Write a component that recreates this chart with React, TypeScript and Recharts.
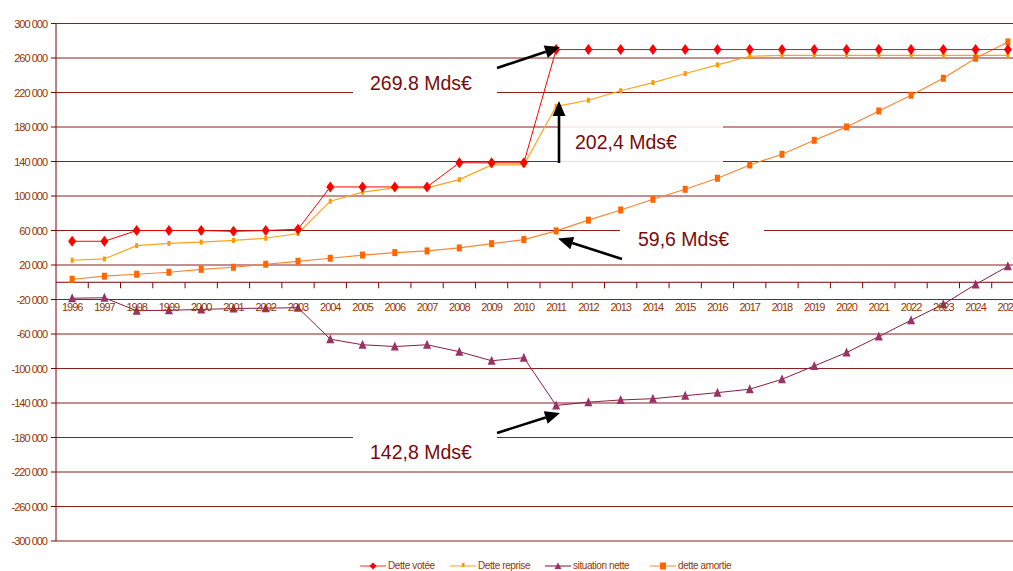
import React from "react";
import { LineChart, Line, XAxis, YAxis, CartesianGrid, ReferenceLine, Legend } from "recharts";

const years = [
  "1996", "1997", "1998", "1999", "2000", "2001", "2002", "2003", "2004", "2005",
  "2006", "2007", "2008", "2009", "2010", "2011", "2012", "2013", "2014", "2015",
  "2016", "2017", "2018", "2019", "2020", "2021", "2022", "2023", "2024", "2025",
];

// millions d'euros
const detteVotee = [
  47500, 47500, 60000, 60000, 60000, 59000, 60000, 61500, 110500, 110500,
  110500, 110500, 138500, 138500, 138500, 269800, 269800, 269800, 269800, 269800,
  269800, 269800, 269800, 269800, 269800, 269800, 269800, 269800, 269800, 269800,
];
const detteReprise = [
  25500, 27000, 42500, 45000, 46500, 48500, 51000, 56500, 94000, 104500,
  109500, 109500, 119000, 136000, 136000, 204000, 211000, 222000, 231500, 242000,
  252000, 262000, 263000, 263000, 263000, 263000, 263000, 263000, 263000, 263000,
];
const situationNette = [
  -18500, -18000, -33000, -32500, -31500, -30500, -30000, -29500, -66000, -72500,
  -74500, -72500, -80500, -91000, -87500, -142800, -139000, -136500, -135000, -131500,
  -128000, -124000, -112500, -97000, -81500, -63000, -44000, -25500, -2500, 18500,
];
const detteAmortie = [
  3500, 7000, 9300, 11600, 15000, 17400, 20900, 24300, 27800, 31500,
  34400, 36300, 39800, 44800, 49500, 59600, 72000, 83800, 96200, 107800,
  120600, 136000, 148400, 164600, 180100, 198600, 216800, 236500, 259700, 278600,
];

const yTicks = [
  -300000, -260000, -220000, -180000, -140000, -100000, -60000, -20000,
  20000, 60000, 100000, 140000, 180000, 220000, 260000, 300000,
];

const data = years.map((year, i) => ({
  year,
  votee: detteVotee[i],
  reprise: detteReprise[i],
  nette: situationNette[i],
  amortie: detteAmortie[i],
}));

const W = 1024;
const H = 571;
const TOP = 23.5;
const LEFT = 56;
const XAXIS_H = 10;
const LEGEND_H = 20;
const PLOT_H = H - TOP - XAXIS_H - LEGEND_H;
const ZERO_Y = TOP + PLOT_H / 2;
const BAND = (W - LEFT) / years.length;

const FONT = '"Liberation Sans", Arial, sans-serif';
const AXIS_TEXT = "#993300";
const GRID = "#8b1f1f";
const NOTE = "#7a0a0a";

const fmt = (v: number) => {
  const s = Math.abs(v).toString().replace(/\B(?=(\d{3})+(?!\d))/g, " ");
  return (v < 0 ? "-" : "") + s;
};

const YTick = (p: any) => (
  <text x={p.x} y={p.y} dy={4} textAnchor="end" fill={AXIS_TEXT} fontSize={11}
    fontFamily={FONT} letterSpacing={-1}>
    {fmt(p.payload.value)}
  </text>
);

const XTick = (p: any) => (
  <g>
    <line x1={p.x + BAND / 2} x2={p.x + BAND / 2} y1={ZERO_Y} y2={ZERO_Y + 6} stroke="#800000" />
    <text x={p.x} y={ZERO_Y + 29} textAnchor="middle" fill={AXIS_TEXT} fontSize={11}
      fontFamily={FONT} letterSpacing={-1}>
      {p.payload.value}
    </text>
  </g>
);

const diamond = (p: any) =>
  p.cx == null ? <g key={`v${p.index}`} /> : (
    <path key={`v${p.index}`} fill="#ff0000"
      d={`M${p.cx},${p.cy - 5.5}L${p.cx + 4},${p.cy}L${p.cx},${p.cy + 5.5}L${p.cx - 4},${p.cy}Z`} />
  );
const tick = (p: any) =>
  p.cx == null ? <g key={`r${p.index}`} /> : (
    <rect key={`r${p.index}`} x={p.cx - 1.5} y={p.cy - 2.5} width={3} height={5} fill="#ff9900" />
  );
const triangle = (p: any) =>
  p.cx == null ? <g key={`n${p.index}`} /> : (
    <path key={`n${p.index}`} fill="#993366"
      d={`M${p.cx},${p.cy - 5}L${p.cx + 4},${p.cy + 4}L${p.cx - 4},${p.cy + 4}Z`} />
  );
const square = (p: any) =>
  p.cx == null ? <g key={`a${p.index}`} /> : (
    <rect key={`a${p.index}`} x={p.cx - 2.5} y={p.cy - 3.5} width={5} height={7} fill="#ff6600" />
  );

const legendItems = [
  { name: "Dette votée", line: "#ff4d4d", left: 360, mark: "diamond" },
  { name: "Dette reprise", line: "#ffb340", left: 450, mark: "tick" },
  { name: "situation nette", line: "#993366", left: 545, mark: "triangle" },
  { name: "dette amortie", line: "#ff9955", left: 650, mark: "square" },
];

const LegendMark = ({ mark }: { mark: string }) => {
  if (mark === "diamond") return <path d="M13,1.5L16.5,5L13,8.5L9.5,5Z" fill="#ff0000" />;
  if (mark === "tick") return <rect x={12} y={2} width={2.5} height={4} fill="#ff9900" />;
  if (mark === "triangle") return <path d="M13,1.5L16.5,8L9.5,8Z" fill="#993366" />;
  return <rect x={10} y={1.5} width={6} height={7} fill="#ff6600" />;
};

const LegendBox = () => (
  <div style={{ position: "relative", width: W, height: LEGEND_H }}>
    {legendItems.map((it) => (
      <div key={it.name} style={{ position: "absolute", left: it.left, top: 10, display: "flex",
        alignItems: "center", whiteSpace: "nowrap" }}>
        <svg width={26} height={10} style={{ display: "block" }}>
          <line x1={0} x2={26} y1={5} y2={5} stroke={it.line} strokeWidth={1.2} />
          <LegendMark mark={it.mark} />
        </svg>
        <span style={{ marginLeft: 2, fontFamily: FONT, fontSize: 10, color: AXIS_TEXT,
          letterSpacing: -0.4, lineHeight: "10px" }}>{it.name}</span>
      </div>
    ))}
  </div>
);

const Arrow = ({ x1, y1, x2, y2 }: { x1: number; y1: number; x2: number; y2: number }) => {
  const dx = x2 - x1;
  const dy = y2 - y1;
  const len = Math.hypot(dx, dy);
  const ux = dx / len;
  const uy = dy / len;
  const hl = 15;
  const hw = 6.5;
  const bx = x2 - ux * hl;
  const by = y2 - uy * hl;
  return (
    <g>
      <line x1={x1} y1={y1} x2={bx} y2={by} stroke="#000" strokeWidth={2.6} />
      <polygon points={`${x2},${y2} ${bx - uy * hw},${by + ux * hw} ${bx + uy * hw},${by - ux * hw}`} fill="#000" />
    </g>
  );
};

const notes = [
  { text: "269.8 Mds€", box: { left: 353, top: 62, width: 144, height: 42, bg: "#fff" }, x: 370, y: 83 },
  { text: "202,4 Mds€", box: { left: 560, top: 125, width: 163, height: 38, bg: "rgba(255,255,255,0.85)" }, x: 575, y: 142 },
  { text: "59,6 Mds€", box: { left: 620, top: 215, width: 144, height: 45, bg: "#fff" }, x: 638, y: 239 },
  { text: "142,8 Mds€", box: { left: 353, top: 428, width: 144, height: 40, bg: "#fff" }, x: 370, y: 452 },
];

export default function App() {
  return (
    <div style={{ position: "absolute", left: 0, top: 0, width: 1013, height: 571, overflow: "hidden", background: "#fff" }}>
      <LineChart width={W} height={H} data={data} margin={{ top: TOP, right: 0, left: 0, bottom: 0 }}>
        <CartesianGrid vertical={false} stroke={GRID} strokeWidth={1} />
        <XAxis dataKey="year" height={XAXIS_H} axisLine={false} tickLine={false} interval={0} tick={<XTick />}
          padding={{ left: BAND / 2, right: BAND / 2 }} />
        <YAxis width={LEFT} domain={[-300000, 300000]} ticks={yTicks} interval={0} tick={<YTick />}
          axisLine={{ stroke: "#800000" }} tickLine={{ stroke: "#800000" }} tickSize={5} tickMargin={4} />
        <ReferenceLine y={0} stroke="#800000" strokeWidth={1} />
        <Legend verticalAlign="bottom" height={LEGEND_H} wrapperStyle={{ left: 0, width: W }} content={() => <LegendBox />} />
        <Line dataKey="reprise" name="Dette reprise" stroke="#ffa31a" strokeWidth={1.2} dot={tick} activeDot={false} isAnimationActive={false} />
        <Line dataKey="amortie" name="dette amortie" stroke="#ff8533" strokeWidth={1.2} dot={square} activeDot={false} isAnimationActive={false} />
        <Line dataKey="nette" name="situation nette" stroke="#8a1f3f" strokeWidth={1} dot={triangle} activeDot={false} isAnimationActive={false} />
        <Line dataKey="votee" name="Dette votée" stroke="#ff0000" strokeWidth={1} dot={diamond} activeDot={false} isAnimationActive={false} />
      </LineChart>
      {notes.map((n) => (
        <React.Fragment key={n.text}>
          <div style={{ position: "absolute", left: n.box.left, top: n.box.top, width: n.box.width, height: n.box.height, background: n.box.bg }} />
          <div style={{ position: "absolute", left: n.x, top: n.y - 11, height: 22, lineHeight: "22px", fontFamily: FONT,
            fontSize: 19.5, color: NOTE, whiteSpace: "nowrap" }}>{n.text}</div>
        </React.Fragment>
      ))}
      <svg width={1013} height={571} style={{ position: "absolute", left: 0, top: 0, pointerEvents: "none" }}>
        <Arrow x1={497} y1={68} x2={560} y2={47} />
        <Arrow x1={559} y1={163} x2={559} y2={101} />
        <Arrow x1={622} y1={259} x2={558} y2={238.5} />
        <Arrow x1={497} y1={433} x2={560} y2={413} />
      </svg>
    </div>
  );
}
